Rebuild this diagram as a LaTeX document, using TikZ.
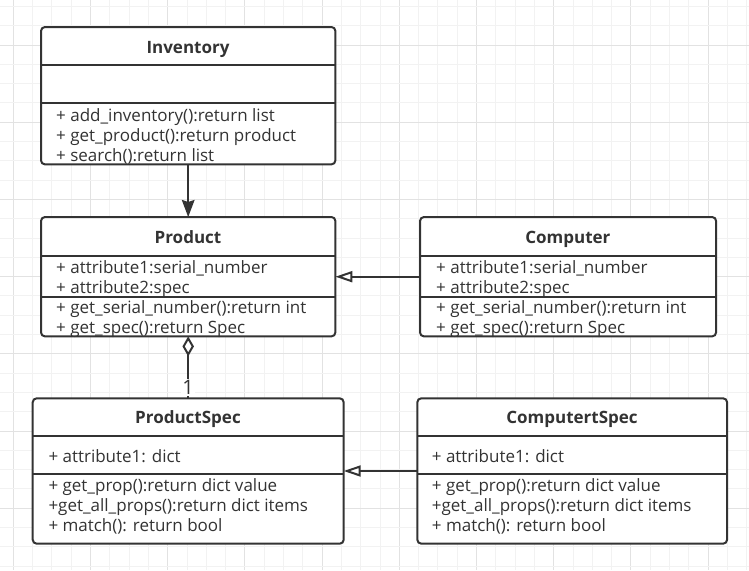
\documentclass[tikz,border=0pt]{standalone}
\usepackage{fontspec}
\setmainfont{Open Sans}
\usetikzlibrary{arrows.meta}
\definecolor{gridminor}{RGB}{242,242,242}
\definecolor{gridmajor}{RGB}{226,226,226}
\definecolor{ink}{RGB}{51,51,51}
\newcommand{\memfont}{\fontsize{17}{20}\selectfont}
\tikzset{
  umlbox/.style={draw=none, rounded corners=4pt, anchor=north west, inner sep=0pt, fill=white},
  umlborder/.style={draw=ink, line width=2pt, rounded corners=4pt},
  septr/.style={draw=ink, line width=2pt},
  members/.style={anchor=north west, inner sep=0pt, align=left, font=\memfont, text=ink},
  ctitle/.style={anchor=base, inner sep=0pt, font=\memfont\bfseries, text=ink},
  conn/.style={draw=ink, line width=2pt},
  assocarrow/.style={conn, -{Stealth[length=17pt, width=12.6pt, inset=2pt]}},
  genarrow/.style={conn, -{Triangle[open, length=17pt, width=11pt, fill=white]}},
  aggline/.style={conn, {Diamond[open, length=20pt, width=11.5pt, fill=white]}-},
  multlabel/.style={fill=white, inner sep=1.5pt, font=\fontsize{20}{20}\selectfont, text=ink},
}
\begin{document}
\begin{tikzpicture}[x=1pt, y=-1pt]
\useasboundingbox (0,0) rectangle (749,570);
\fill[white] (0,0) rectangle (749,570);
% grid
\foreach \i in {0,...,38} {
  \pgfmathtruncatemacro{\m}{mod(\i,4)}
  \ifnum\m=0 \draw[gridmajor, line width=1pt] ({13.3+19.3*\i},0) -- ({13.3+19.3*\i},570);
  \else \draw[gridminor, line width=1pt] ({13.3+19.3*\i},0) -- ({13.3+19.3*\i},570); \fi
}
\foreach \i in {0,...,29} {
  \pgfmathtruncatemacro{\m}{mod(\i,4)}
  \ifnum\m=2 \draw[gridmajor, line width=1pt] (0,{6.4+19.3*\i}) -- (749,{6.4+19.3*\i});
  \else \draw[gridminor, line width=1pt] (0,{6.4+19.3*\i}) -- (749,{6.4+19.3*\i}); \fi
}

% Inventory
\node[umlbox, minimum width=294pt, minimum height=137pt] (inv) at (41,27) {};
\node[ctitle] (invt) at (188,53) {Inventory};
\node[members] (invm) at (56,107) {\strut + add\_inventory():return list\\\strut + get\_product():return product\\\strut + search():return list};
\draw[septr] (inv.west |- 0,65) -- (inv.east |- 0,65);
\draw[septr] (inv.west |- 0,103.3) -- (inv.east |- 0,103.3);
\draw[umlborder] (inv.north west) rectangle (inv.south east);

% Product
\node[umlbox, minimum width=294pt, minimum height=119pt] (prod) at (41,217) {};
\node[ctitle] (prodt) at (188,243) {Product};
\node[members] (proda) at (56,259) {\strut + attribute1:serial\_number\\\strut + attribute2:spec};
\node[members] (prodm) at (56,299) {\strut + get\_serial\_number():return int\\\strut + get\_spec():return Spec};
\draw[septr] (prod.west |- 0,255.7) -- (prod.east |- 0,255.7);
\draw[septr] (prod.west |- 0,296.7) -- (prod.east |- 0,296.7);
\draw[umlborder] (prod.north west) rectangle (prod.south east);

% Computer
\node[umlbox, minimum width=295.7pt, minimum height=119pt] (comp) at (420,217) {};
\node[ctitle] (compt) at (567.9,243) {Computer};
\node[members] (compa) at (436,259) {\strut + attribute1:serial\_number\\\strut + attribute2:spec};
\node[members] (compm) at (436,299) {\strut + get\_serial\_number():return int\\\strut + get\_spec():return Spec};
\draw[septr] (comp.west |- 0,255.7) -- (comp.east |- 0,255.7);
\draw[septr] (comp.west |- 0,296.7) -- (comp.east |- 0,296.7);
\draw[umlborder] (comp.north west) rectangle (comp.south east);

% ProductSpec
\node[umlbox, minimum width=310.6pt, minimum height=145pt] (pspec) at (32.7,398.3) {};
\node[ctitle] (pspect) at (188,423) {ProductSpec};
\node[members] (pspeca) at (48.3,448) {\strut + attribute1: dict};
\node[members] (pspecm) at (48.3,477) {\strut + get\_prop():return dict value\\\strut +get\_all\_props():return dict items\\\strut + match(): return bool};
\draw[septr] (pspec.west |- 0,436) -- (pspec.east |- 0,436);
\draw[septr] (pspec.west |- 0,474.3) -- (pspec.east |- 0,474.3);
\draw[umlborder] (pspec.north west) rectangle (pspec.south east);

% ComputertSpec
\node[umlbox, minimum width=309.4pt, minimum height=145pt] (cspec) at (417.3,398.3) {};
\node[ctitle] (cspect) at (572,423) {ComputertSpec};
\node[members] (cspeca) at (431.7,448) {\strut + attribute1: dict};
\node[members] (cspecm) at (431.7,477) {\strut + get\_prop():return dict value\\\strut +get\_all\_props():return dict items\\\strut + match(): return bool};
\draw[septr] (cspec.west |- 0,436) -- (cspec.east |- 0,436);
\draw[septr] (cspec.west |- 0,474.3) -- (cspec.east |- 0,474.3);
\draw[umlborder] (cspec.north west) rectangle (cspec.south east);

% connectors
\draw[assocarrow] (inv.south) -- (prod.north);
\draw[genarrow] (comp.west) -- (prod.east);
\draw[genarrow] (cspec.west) -- (pspec.east);
\draw[aggline] (prod.south) -- (pspec.north)
  node[pos=0.82, multlabel] (mult) {1};
\end{tikzpicture}
\end{document}
